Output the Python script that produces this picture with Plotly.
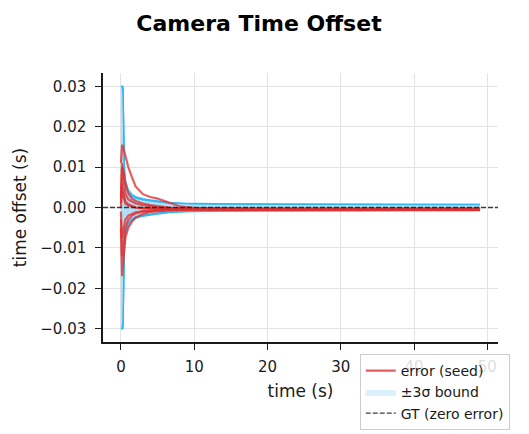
'''
    Camera time offset error per seed, with the +/-3 sigma bounds
    and the ground truth (zero error) reference line.
'''

import plotly.graph_objects as go

# time samples (s), shared by every seed
time_s = [0, 0.15, 0.3, 0.45, 0.6, 1, 1.5, 2, 3, 4, 5, 6.5, 8, 10, 15, 20, 30, 40, 49]

# time offset error per seed (s)
err_seed_1 = [0.011, 0.0155, 0.015, 0.014, 0.013, 0.010, 0.0075, 0.0052, 0.0033, 0.0026, 0.0022, 0.0012,
              0.0003, -0.0001, -0.0003, -0.0004, -0.0004, -0.0004, -0.0004]
err_seed_2 = [0.0, 0.010, 0.0095, 0.008, 0.006, 0.0035, 0.0022, 0.0016, 0.0010, 0.0006, 0.0003, 0.0,
              -0.0002, -0.0003, -0.0004, -0.0004, -0.0004, -0.0005, -0.0005]
err_seed_3 = [-0.005, -0.017, -0.014, -0.010, -0.0075, -0.005, -0.0035, -0.0025, -0.0016, -0.0011, -0.0009,
              -0.0007, -0.0006, -0.0005, -0.0005, -0.0005, -0.0005, -0.0005, -0.0005]
err_seed_4 = [0.002, 0.006, 0.004, 0.0025, 0.0015, 0.0008, 0.0003, 0.0, -0.0002, -0.0003, -0.0003, -0.0004,
              -0.0004, -0.0004, -0.0004, -0.0004, -0.0004, -0.0004, -0.0004]
err_seed_5 = [-0.003, -0.0075, -0.006, -0.004, -0.003, -0.002, -0.0015, -0.0012, -0.0009, -0.0008, -0.0007,
              -0.0006, -0.0006, -0.0005, -0.0005, -0.0005, -0.0005, -0.0005, -0.0005]
err_seed_6 = [0.001, 0.004, 0.003, 0.0015, 0.001, 0.0005, 0.0002, 0.0, -0.0001, -0.0002, -0.0002, -0.0002,
              -0.0003, -0.0003, -0.0003, -0.0003, -0.0003, -0.0003, -0.0003]
err_seed_7 = [-0.001, -0.012, -0.010, -0.007, -0.005, -0.003, -0.002, -0.0015, -0.0010, -0.0008, -0.0007,
              -0.0006, -0.0006, -0.0006, -0.0006, -0.0006, -0.0006, -0.0006, -0.0006]
err_seed_8 = [0.003, 0.011, 0.008, 0.005, 0.0035, 0.002, 0.0014, 0.0010, 0.0006, 0.0003, 0.0001, -0.0001,
              -0.0002, -0.0003, -0.0003, -0.0003, -0.0003, -0.0003, -0.0003]

# 3 sigma bound (s), one per seed group
bound_a = [0.030, 0.030, 0.030, 0.012, 0.007, 0.0045, 0.0033, 0.0027, 0.0022, 0.0019, 0.0016, 0.0013,
           0.0011, 0.0010, 0.0009, 0.0009, 0.0008, 0.0008, 0.0008]
bound_b = [0.030, 0.030, 0.029, 0.010, 0.006, 0.0040, 0.0030, 0.0025, 0.0020, 0.0017, 0.0015, 0.0012,
           0.0010, 0.0009, 0.0009, 0.0008, 0.0008, 0.0008, 0.0008]
bound_c = [0.030, 0.030, 0.028, 0.009, 0.0055, 0.0037, 0.0028, 0.0023, 0.0019, 0.0016, 0.0014, 0.0011,
           0.0010, 0.0009, 0.0008, 0.0008, 0.0007, 0.0007, 0.0007]

errors = [err_seed_1, err_seed_2, err_seed_3, err_seed_4, err_seed_5, err_seed_6, err_seed_7, err_seed_8]
bounds = [bound_a, bound_b, bound_c]

x_ticks = [0, 10, 20, 30, 40, 50]
y_ticks = [-0.03, -0.02, -0.01, 0.0, 0.01, 0.02, 0.03]

FONT = 'DejaVu Sans'
RED = 'rgba(226,48,48,0.78)'
BLUE_LINE = 'rgba(41,182,246,0.9)'
BLUE_FILL = 'rgba(135,206,250,0.3)'

fig = go.Figure()

# the bands first so they sit under the error lines
for i, b in enumerate(bounds):
    lower = [-v for v in b]
    fig.add_trace(go.Scatter(
        x=time_s + time_s[::-1], y=b + lower[::-1],
        fill='toself', fillcolor=BLUE_FILL, mode='lines',
        line=dict(width=0, color=BLUE_FILL),
        name='±3σ bound', showlegend=(i == 0), legendrank=2, hoverinfo='skip'))
    for edge in (b, lower):
        fig.add_trace(go.Scatter(x=time_s, y=edge, mode='lines',
                                 line=dict(color=BLUE_LINE, width=1.2),
                                 showlegend=False, hoverinfo='skip'))

for i, e in enumerate(errors):
    fig.add_trace(go.Scatter(x=time_s, y=e, mode='lines',
                             line=dict(color=RED, width=2.2),
                             name='error (seed)', showlegend=(i == 0), legendrank=1))

# ground truth: zero error
fig.add_hline(y=0, line=dict(color='rgba(30,30,30,0.85)', width=1.3, dash='5px,2px'),
              showlegend=True, name='GT (zero error)', legendrank=3)

# the page body adds 8px on the left and top, so the margins are set 8px smaller there
fig.update_layout(
    width=529, height=434,
    margin=dict(l=95, r=39, t=65, b=94),
    paper_bgcolor='white', plot_bgcolor='white',
    font=dict(family=FONT, size=15, color='#1a1a1a'),
    title=dict(text='<b>Camera Time Offset</b>', x=0.4745, xanchor='center',
               y=0.965, yanchor='middle', font=dict(family=FONT, size=22, color='black')),
    legend=dict(x=0.65, y=-0.045, xanchor='left', yanchor='top',
                bgcolor='rgba(255,255,255,0.85)', bordercolor='#cccccc', borderwidth=1,
                font=dict(family=FONT, size=14), tracegroupgap=0, itemwidth=30),
)

fig.update_xaxes(range=[-2.45, 51.45], tickvals=x_ticks, showgrid=True, gridcolor='#e3e3e3',
                 zeroline=False, showline=True, linecolor='#1a1a1a', linewidth=1.5,
                 ticks='outside', ticklen=6, tickwidth=1.2, tickcolor='#1a1a1a', automargin=False,
                 ticklabelstandoff=4,
                 title=dict(text='time (s)', font=dict(size=17), standoff=10))
fig.update_yaxes(range=[-0.0333, 0.0333], tickvals=y_ticks, tickformat='.2f', showgrid=True,
                 gridcolor='#e3e3e3', zeroline=False, showline=True, linecolor='#1a1a1a',
                 linewidth=1.5, ticks='outside', ticklen=6, tickwidth=1.2, tickcolor='#1a1a1a',
                 automargin=False, ticklabelstandoff=6,
                 title=dict(text='time offset (s)', font=dict(size=17), standoff=9))

fig.write_html('out.html')
